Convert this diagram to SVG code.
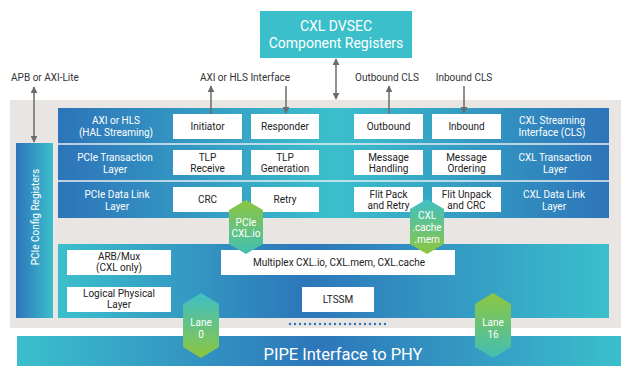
<svg xmlns="http://www.w3.org/2000/svg" width="621" height="366" viewBox="0 0 621 366">
<defs>
<linearGradient id="gTop" x1="58" y1="0" x2="609" y2="0" gradientUnits="userSpaceOnUse">
<stop offset="0" stop-color="#2d74b9"/><stop offset="0.5" stop-color="#3bbfcc"/><stop offset="1" stop-color="#2d74b9"/>
</linearGradient>
<linearGradient id="gBot" x1="58" y1="0" x2="609" y2="0" gradientUnits="userSpaceOnUse">
<stop offset="0" stop-color="#3bbfcc"/><stop offset="0.45" stop-color="#2d76ba"/><stop offset="1" stop-color="#3bbfcc"/>
</linearGradient>
<linearGradient id="gPipe" x1="17" y1="0" x2="621" y2="0" gradientUnits="userSpaceOnUse">
<stop offset="0" stop-color="#3bbfcc"/><stop offset="0.5" stop-color="#2d76ba"/><stop offset="1" stop-color="#3bbfcc"/>
</linearGradient>
<linearGradient id="gCfg" x1="0" y1="0" x2="1" y2="0">
<stop offset="0" stop-color="#2d74b9"/><stop offset="1" stop-color="#3bbfcc"/>
</linearGradient>
<linearGradient id="gGT" x1="0" y1="0" x2="0" y2="1">
<stop offset="0" stop-color="#8dc63f"/><stop offset="1" stop-color="#42bfb4"/>
</linearGradient>
<linearGradient id="gTG" x1="0" y1="0" x2="0" y2="1">
<stop offset="0" stop-color="#3fbfc6"/><stop offset="1" stop-color="#8dc63f"/>
</linearGradient>
<marker id="ah" viewBox="0 0 10 10" refX="9" refY="5" markerWidth="7" markerHeight="7" markerUnits="userSpaceOnUse" orient="auto-start-reverse">
<path d="M0,0 L10,5 L0,10 z" fill="#6b6b6b"/>
</marker>
<style>
text{font-family:"Roboto","Liberation Sans",sans-serif;text-anchor:middle;dominant-baseline:central}
.lbl{font-size:10px;fill:#333}
.box{fill:#fff}
.bt{font-size:10px;fill:#222}
.wt{font-size:10px;fill:#fff}
.ht{font-size:10px;fill:#fff}
.arr{stroke:#6b6b6b;stroke-width:1.5;fill:none}
</style>
</defs>
<rect x="10" y="100" width="611" height="228" fill="#e8e5e2"/>
<g id="dvsec">
<rect x="260" y="11" width="152" height="47" fill="#3bbfcb"/>
<text x="336" y="26" style="font-size:14px;fill:#fff">CXL DVSEC</text>
<text x="336" y="43" style="font-size:14px;fill:#fff">Component Registers</text>
</g>
<g id="labels">
<text class="lbl" x="45" y="77">APB or AXI-Lite</text>
<text class="lbl" x="245" y="77">AXI or HLS Interface</text>
<text class="lbl" x="387" y="77">Outbound CLS</text>
<text class="lbl" x="464" y="77">Inbound CLS</text>
</g>
<g id="upper-stack">
<rect x="58" y="108" width="551" height="110" fill="url(#gTop)"/>
<line x1="58" y1="144" x2="609" y2="144" stroke="#e8eef2" stroke-width="1.5"/>
<line x1="58" y1="181" x2="609" y2="181" stroke="#e8eef2" stroke-width="1.5"/>
<text class="wt" x="116" y="120.5">AXI or HLS</text>
<text class="wt" x="116" y="132.5">(HAL Streaming)</text>
<text class="wt" x="115" y="157.5">PCIe Transaction</text>
<text class="wt" x="115" y="169.5">Layer</text>
<text class="wt" x="117" y="194.5">PCIe Data Link</text>
<text class="wt" x="117" y="206.5">Layer</text>
<text class="wt" x="552" y="120.5">CXL Streaming</text>
<text class="wt" x="552" y="132.5">Interface (CLS)</text>
<text class="wt" x="555" y="157.5">CXL Transaction</text>
<text class="wt" x="555" y="169.5">Layer</text>
<text class="wt" x="554" y="194.5">CXL Data Link</text>
<text class="wt" x="554" y="206.5">Layer</text>
</g>
<g id="initiator"><rect class="box" x="173" y="114" width="69" height="25"/><text class="bt" x="207.5" y="126.5">Initiator</text></g>
<g id="responder"><rect class="box" x="251" y="114" width="68" height="25"/><text class="bt" x="285" y="126.5">Responder</text></g>
<g id="outbound"><rect class="box" x="354" y="114" width="69" height="25"/><text class="bt" x="388.5" y="126.5">Outbound</text></g>
<g id="inbound"><rect class="box" x="432" y="114" width="69" height="25"/><text class="bt" x="466.5" y="126.5">Inbound</text></g>
<g id="tlp-receive"><rect class="box" x="173" y="150" width="69" height="25"/><text class="bt" x="207.5" y="157.5">TLP</text><text class="bt" x="207.5" y="168.5">Receive</text></g>
<g id="tlp-generation"><rect class="box" x="251" y="150" width="68" height="25"/><text class="bt" x="285" y="157.5">TLP</text><text class="bt" x="285" y="168.5">Generation</text></g>
<g id="msg-handling"><rect class="box" x="354" y="150" width="69" height="25"/><text class="bt" x="388.5" y="157.5">Message</text><text class="bt" x="388.5" y="168.5">Handling</text></g>
<g id="msg-ordering"><rect class="box" x="432" y="150" width="69" height="25"/><text class="bt" x="466.5" y="157.5">Message</text><text class="bt" x="466.5" y="168.5">Ordering</text></g>
<g id="crc"><rect class="box" x="173" y="187" width="69" height="25"/><text class="bt" x="207.5" y="199.5">CRC</text></g>
<g id="retry"><rect class="box" x="251" y="187" width="68" height="25"/><text class="bt" x="285" y="199.5">Retry</text></g>
<g id="flit-pack"><rect class="box" x="354" y="187" width="69" height="25"/><text class="bt" x="388.5" y="194.5">Flit Pack</text><text class="bt" x="388.5" y="205">and Retry</text></g>
<g id="flit-unpack"><rect class="box" x="432" y="187" width="69" height="25"/><text class="bt" x="466.5" y="194.5">Flit Unpack</text><text class="bt" x="466.5" y="205">and CRC</text></g>
<g id="config-registers">
<rect x="16" y="143" width="37" height="175" fill="url(#gCfg)"/>
<text class="wt" transform="translate(35,217) rotate(-90)" x="0" y="0">PCIe Config Registers</text>
</g>
<g id="lower-stack">
<rect x="58" y="244" width="551" height="74" fill="url(#gBot)"/>
</g>
<g id="arb-mux"><rect class="box" x="67" y="250" width="104" height="25"/><text class="bt" x="119" y="256.5">ARB/Mux</text><text class="bt" x="119" y="267.5">(CXL only)</text></g>
<g id="multiplex"><rect class="box" x="221" y="250" width="234" height="25"/><text class="bt" x="339" y="262.5">Multiplex CXL.io, CXL.mem, CXL.cache</text></g>
<g id="logical-phy"><rect class="box" x="67" y="287" width="104" height="25"/><text class="bt" x="119" y="293.5">Logical Physical</text><text class="bt" x="119" y="304">Layer</text></g>
<g id="ltssm"><rect class="box" x="302" y="287" width="72" height="25"/><text class="bt" x="338" y="299.5">LTSSM</text></g>
<line x1="290" y1="324" x2="388" y2="324" stroke="#2d76ba" stroke-width="2.4" stroke-linecap="round" stroke-dasharray="0 5"/>
<g id="pipe">
<rect x="17" y="336" width="604" height="30" fill="url(#gPipe)"/>
<text x="343" y="354" style="font-size:16.5px;fill:#fff">PIPE Interface to PHY</text>
</g>
<g id="hex-pcie">
<polygon points="246,200 263,210 263,244 246,254 229,244 229,210" fill="url(#gGT)"/>
<text class="ht" x="246" y="222">PCIe</text><text class="ht" x="246" y="233">CXL.io</text>
</g>
<g id="hex-cxl">
<polygon points="427,199 444,209 444,244 427,254 410,244 410,209" fill="url(#gTG)"/>
<text class="ht" x="427" y="215">CXL</text><text class="ht" x="427" y="227">.cache</text><text class="ht" x="427" y="239">.mem</text>
</g>
<g id="lane0">
<polygon points="201,293 219,304 219,347 201,358 183,347 183,304" fill="url(#gTG)"/>
<text class="ht" x="201" y="322">Lane</text><text class="ht" x="201" y="334">0</text>
</g>
<g id="lane16">
<polygon points="493,293 511,304 511,347 493,358 475,347 475,304" fill="url(#gGT)"/>
<text class="ht" x="493" y="322">Lane</text><text class="ht" x="493" y="334">16</text>
</g>
<g id="connectors">
<line class="arr" x1="34" y1="87" x2="34" y2="142" marker-start="url(#ah)" marker-end="url(#ah)"/>
<line class="arr" x1="211" y1="114" x2="211" y2="86" marker-end="url(#ah)"/>
<line class="arr" x1="286" y1="86" x2="286" y2="113" marker-end="url(#ah)"/>
<line class="arr" x1="336" y1="59" x2="336" y2="99" marker-start="url(#ah)" marker-end="url(#ah)"/>
<line class="arr" x1="389" y1="114" x2="389" y2="86" marker-end="url(#ah)"/>
<line class="arr" x1="464" y1="86" x2="464" y2="113" marker-end="url(#ah)"/>
</g>
</svg>
